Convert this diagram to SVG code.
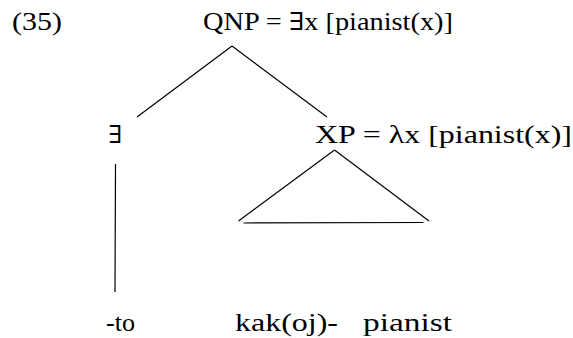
<svg xmlns="http://www.w3.org/2000/svg" width="573" height="338" viewBox="0 0 573 338">
<style>
text{font-family:'Liberation Serif','Times New Roman','DejaVu Serif',serif;font-size:25px;fill:#000}
line{stroke:#000;stroke-width:1.2;fill:none}
</style>
<rect width="573" height="338" fill="#fff"/>
<text x="12" y="29.5" textLength="50" lengthAdjust="spacingAndGlyphs">(35)</text>
<g id="qnp"><text x="203" y="29.5" textLength="250" lengthAdjust="spacingAndGlyphs">QNP = ∃x [pianist(x)]</text></g>
<g id="exists"><text x="108" y="143" textLength="14" lengthAdjust="spacingAndGlyphs">∃</text></g>
<g id="xp"><text x="315" y="143" textLength="257" lengthAdjust="spacingAndGlyphs">XP = λx [pianist(x)]</text></g>
<g id="to"><text x="106" y="331" textLength="29" lengthAdjust="spacingAndGlyphs">-to</text></g>
<g id="kakoj"><text x="235" y="331" textLength="103" lengthAdjust="spacingAndGlyphs">kak(oj)-</text></g>
<g id="pianist"><text x="363" y="331" textLength="89" lengthAdjust="spacingAndGlyphs">pianist</text></g>
<g id="connectors">
<line x1="232" y1="46" x2="137" y2="117"/>
<line x1="232" y1="46" x2="327" y2="117"/>
<line x1="334.5" y1="150" x2="238.5" y2="221"/>
<line x1="334.5" y1="150" x2="429" y2="221"/>
<line x1="243.5" y1="223" x2="423.5" y2="222.5"/>
<line x1="115.5" y1="164" x2="115" y2="292"/>
</g>
</svg>
